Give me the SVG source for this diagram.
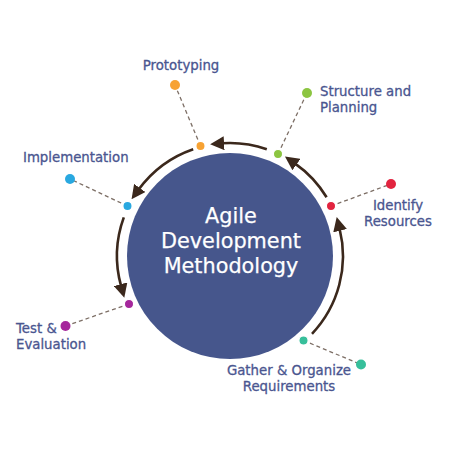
<svg xmlns="http://www.w3.org/2000/svg" width="450" height="450" viewBox="0 0 450 450">
<defs>
<style>
.lbl{font-family:"DejaVu Sans","Liberation Sans",sans-serif;font-size:13.3px;font-weight:400;fill:#4a5690;stroke:#4a5690;stroke-width:0.3}
.ctr{font-family:"DejaVu Sans","Liberation Sans",sans-serif;font-size:20.8px;font-weight:400;fill:#ffffff;stroke:#ffffff;stroke-width:0.25}
.arc{fill:none;stroke:#3b281c;stroke-width:2.6}
.dash{fill:none;stroke:#7d6f66;stroke-width:1.3;stroke-dasharray:4 3}
.rd{stroke:#ffffff;stroke-width:1.2}
</style>
<marker id="ah" markerUnits="userSpaceOnUse" viewBox="0 0 14 14" refX="2" refY="7" markerWidth="14" markerHeight="14" orient="auto">
<path d="M0,0 L14,7 L0,14 z" fill="#3b281c"/>
</marker>
</defs>
<rect width="450" height="450" fill="#ffffff"/>
<g id="hub">
<circle cx="230" cy="256" r="103" fill="#46568c"/>
<text class="ctr" text-anchor="middle"><tspan x="231" y="223">Agile</tspan><tspan x="231" y="248">Development</tspan><tspan x="231" y="273">Methodology</tspan></text>
</g>
<g id="connectors">
<path class="arc" marker-end="url(#ah)" d="M266.8,149.2 A113,113 0 0 0 222.1,143.3"/>
<path class="arc" marker-end="url(#ah)" d="M193.2,149.2 A113,113 0 0 0 138.6,189.6"/>
<path class="arc" marker-end="url(#ah)" d="M123.8,217.4 A113,113 0 0 0 121.1,286.2"/>
<path class="arc" marker-end="url(#ah)" d="M312.0,333.8 A113,113 0 0 0 339.6,228.7"/>
<path class="arc" marker-end="url(#ah)" d="M326.6,197.3 A113,113 0 0 0 294.8,163.4"/>
<line class="dash" x1="200.5" y1="146" x2="175" y2="85"/>
<line class="dash" x1="278" y1="154" x2="307" y2="93"/>
<line class="dash" x1="331" y1="206" x2="391" y2="184"/>
<line class="dash" x1="127.5" y1="206" x2="70" y2="179"/>
<line class="dash" x1="129" y1="304" x2="65.5" y2="326"/>
<line class="dash" x1="303.5" y1="340.5" x2="361" y2="364.5"/>
</g>
<g id="prototyping">
<circle class="rd" cx="200.5" cy="146" r="4.6" fill="#f7a233"/>
<circle cx="175" cy="85" r="5" fill="#f7a233"/>
<text class="lbl" x="181" y="70" text-anchor="middle">Prototyping</text>
</g>
<g id="structure">
<circle class="rd" cx="278" cy="154" r="4.6" fill="#8cc541"/>
<circle cx="307" cy="93" r="5" fill="#8cc541"/>
<text class="lbl" x="320" y="96">Structure and</text>
<text class="lbl" x="320" y="112">Planning</text>
</g>
<g id="identify">
<circle class="rd" cx="331" cy="206" r="4.6" fill="#e2243f"/>
<circle cx="391" cy="184" r="5" fill="#e2243f"/>
<text class="lbl" x="398" y="210" text-anchor="middle">Identify</text>
<text class="lbl" x="398" y="226" text-anchor="middle">Resources</text>
</g>
<g id="implementation">
<circle class="rd" cx="127.5" cy="206" r="4.6" fill="#29a8e0"/>
<circle cx="70" cy="179" r="5" fill="#29a8e0"/>
<text class="lbl" x="23" y="162">Implementation</text>
</g>
<g id="test">
<circle class="rd" cx="129" cy="304" r="4.6" fill="#a5279c"/>
<circle cx="65.5" cy="326" r="5" fill="#a5279c"/>
<text class="lbl" x="16" y="333">Test &amp;</text>
<text class="lbl" x="16" y="349">Evaluation</text>
</g>
<g id="gather">
<circle class="rd" cx="303.5" cy="340.5" r="4.6" fill="#37bf9b"/>
<circle cx="361" cy="364.5" r="5" fill="#37bf9b"/>
<text class="lbl" x="289" y="375" text-anchor="middle">Gather &amp; Organize</text>
<text class="lbl" x="289" y="391" text-anchor="middle">Requirements</text>
</g>
</svg>
